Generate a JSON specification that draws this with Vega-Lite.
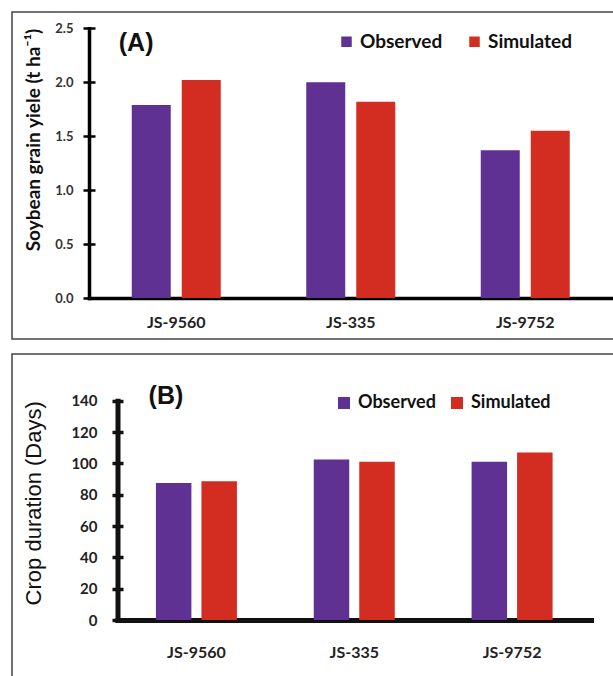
{
  "$schema": "https://vega.github.io/schema/vega-lite/v6.json",
  "background": "white",
  "padding": {"left": 11, "top": -115, "right": 0, "bottom": 0},
  "bounds": "flush",
  "spacing": 15,
  "datasets": {
    "yield": [
      {"variety": "JS-9560", "type": "Observed", "value": 1.79},
      {"variety": "JS-9560", "type": "Simulated", "value": 2.02},
      {"variety": "JS-335", "type": "Observed", "value": 2.0},
      {"variety": "JS-335", "type": "Simulated", "value": 1.82},
      {"variety": "JS-9752", "type": "Observed", "value": 1.37},
      {"variety": "JS-9752", "type": "Simulated", "value": 1.55}
    ],
    "duration": [
      {"variety": "JS-9560", "type": "Observed", "value": 87.5},
      {"variety": "JS-9560", "type": "Simulated", "value": 88.5},
      {"variety": "JS-335", "type": "Observed", "value": 102.5},
      {"variety": "JS-335", "type": "Simulated", "value": 101},
      {"variety": "JS-9752", "type": "Observed", "value": 101},
      {"variety": "JS-9752", "type": "Simulated", "value": 107}
    ]
  },
  "vconcat": [
    {
      "width": 677,
      "height": 327,
      "layer": [
        {
          "data": {"name": "yield"},
          "mark": {"type": "bar"},
          "encoding": {
            "x": {"field": "variety", "type": "nominal", "sort": ["JS-9560", "JS-335", "JS-9752"],
              "scale": {"range": [77, 600.5], "paddingInner": 0, "paddingOuter": 0},
              "axis": {"orient": "bottom", "offset": -41, "title": null, "ticks": false, "domain": true, "domainWidth": 3.5, "domainColor": "#000", "domainCap": "square", "labelFont": "Lato", "labelFontSize": 16, "labelFontWeight": "bold", "labelColor": "#222", "labelPadding": 24, "labelBaseline": "middle", "labelAngle": 0}},
            "xOffset": {"field": "type", "type": "nominal", "sort": ["Observed", "Simulated"], "scale": {"paddingInner": 0.22, "paddingOuter": 0.855}},
            "y": {"field": "value", "type": "quantitative",
              "scale": {"domain": [0, 2.5], "range": [286, 16.3], "nice": false, "zero": true},
              "axis": {"orient": "left", "offset": -77, "values": [0, 0.5, 1, 1.5, 2, 2.5], "format": ".1f", "grid": false, "domain": true, "domainWidth": 3.5, "domainColor": "#000", "domainCap": "square", "ticks": true, "tickSize": 6, "tickWidth": 2.5, "tickColor": "#000", "labelFont": "Lato", "labelFontSize": 13, "labelFontWeight": "bold", "labelColor": "#333", "labelPadding": 10, "title": "Soybean grain yiele (t ha⁻¹)", "titleFont": "Lato", "titleFontSize": 19, "titleFontWeight": "bold", "titleColor": "#111", "titleAnchor": "end", "titlePadding": 11}},
            "color": {"field": "type", "type": "nominal",
              "scale": {"domain": ["Observed", "Simulated"], "range": ["#5f3192", "#d22d20"]},
              "legend": {"title": null, "orient": "none", "legendX": 325, "legendY": 20, "direction": "horizontal", "symbolType": "square", "symbolSize": 110, "symbolStrokeWidth": 0, "symbolOpacity": 1, "labelFont": "Lato", "labelFontSize": 19, "labelFontWeight": "bold", "labelColor": "#111", "labelOffset": 4, "columnPadding": 22, "padding": 0}}
          }
        },
        {
          "data": {"name": "yield"},
          "mark": {"type": "bar", "opacity": 0},
          "encoding": {
            "x": {"field": "variety", "type": "nominal", "sort": ["JS-9560", "JS-335", "JS-9752"]},
            "y": {"field": "value", "type": "quantitative",
              "axis": {"orient": "left", "offset": -83, "values": [0, 0.5, 1, 1.5, 2, 2.5], "grid": false, "domain": false, "labels": false, "ticks": true, "tickSize": 6, "tickWidth": 2.5, "tickColor": "#000", "title": null}}
          }
        },
        {
          "data": {"values": [{"label": "(A)"}]},
          "mark": {"type": "text", "font": "Liberation Sans", "fontSize": 25, "fontWeight": "bold", "color": "#111", "align": "center", "baseline": "middle"},
          "encoding": {
            "text": {"field": "label"},
            "x": {"datum": "JS-9560", "bandPosition": 0.27},
            "y": {"datum": 2.36, "axis": null}
          }
        }
      ],
      "resolve": {"axis": {"y": "independent"}}
    },
    {
      "width": 684,
      "height": 340,
      "layer": [
        {
          "data": {"name": "duration"},
          "mark": {"type": "bar"},
          "encoding": {
            "x": {"field": "variety", "type": "nominal", "sort": ["JS-9560", "JS-335", "JS-9752"],
              "scale": {"range": [105.5, 579], "paddingInner": 0, "paddingOuter": 0},
              "axis": {"orient": "bottom", "offset": -74, "title": null, "ticks": false, "domain": true, "domainWidth": 5, "domainColor": "#111", "domainCap": "square", "labelFont": "Lato", "labelFontSize": 16, "labelFontWeight": "bold", "labelColor": "#222", "labelPadding": 32, "labelBaseline": "middle", "labelAngle": 0}},
            "xOffset": {"field": "type", "type": "nominal", "sort": ["Observed", "Simulated"], "scale": {"paddingInner": 0.22, "paddingOuter": 0.844}},
            "y": {"field": "value", "type": "quantitative",
              "scale": {"domain": [0, 140], "range": [266, 46.7], "nice": false, "zero": true},
              "axis": {"orient": "left", "offset": -105.5, "values": [0, 20, 40, 60, 80, 100, 120, 140], "grid": false, "domain": true, "domainWidth": 5, "domainColor": "#111", "domainCap": "square", "ticks": true, "tickSize": 5.5, "tickWidth": 3.5, "tickColor": "#111", "labelFont": "Lato", "labelFontSize": 15, "labelFontWeight": "bold", "labelColor": "#222", "labelPadding": 15, "title": "Crop duration (Days)", "titleFont": "Liberation Sans", "titleFontSize": 22, "titleFontWeight": "normal", "titleColor": "#111", "titleAnchor": "end", "titlePadding": 25}},
            "color": {"field": "type", "type": "nominal",
              "scale": {"domain": ["Observed", "Simulated"], "range": ["#5f3192", "#d22d20"]},
              "legend": {"title": null, "orient": "none", "legendX": 323, "legendY": 40, "direction": "horizontal", "symbolType": "square", "symbolSize": 144, "symbolStrokeWidth": 0, "symbolOpacity": 1, "labelFont": "Lato", "labelFontSize": 18, "labelFontWeight": "bold", "labelColor": "#111", "labelOffset": 5, "columnPadding": 12, "padding": 0}}
          }
        },
        {
          "data": {"name": "duration"},
          "mark": {"type": "bar", "opacity": 0},
          "encoding": {
            "x": {"field": "variety", "type": "nominal", "sort": ["JS-9560", "JS-335", "JS-9752"]},
            "y": {"field": "value", "type": "quantitative",
              "axis": {"orient": "left", "offset": -111, "values": [0, 20, 40, 60, 80, 100, 120, 140], "grid": false, "domain": false, "labels": false, "ticks": true, "tickSize": 5.5, "tickWidth": 3.5, "tickColor": "#111", "title": null}}
          }
        },
        {
          "data": {"values": [{"label": "(B)"}]},
          "mark": {"type": "text", "font": "Liberation Sans", "fontSize": 25, "fontWeight": "bold", "color": "#111", "align": "center", "baseline": "middle"},
          "encoding": {
            "text": {"field": "label"},
            "x": {"datum": "JS-9560", "bandPosition": 0.307},
            "y": {"datum": 143, "axis": null}
          }
        }
      ],
      "resolve": {"axis": {"y": "independent"}}
    }
  ],
  "resolve": {"scale": {"x": "independent", "y": "independent", "xOffset": "independent", "color": "independent"}, "legend": {"color": "independent"}},
  "config": {
    "view": {"stroke": "#444", "strokeWidth": 1.5},
    "bar": {"stroke": null}
  }
}
